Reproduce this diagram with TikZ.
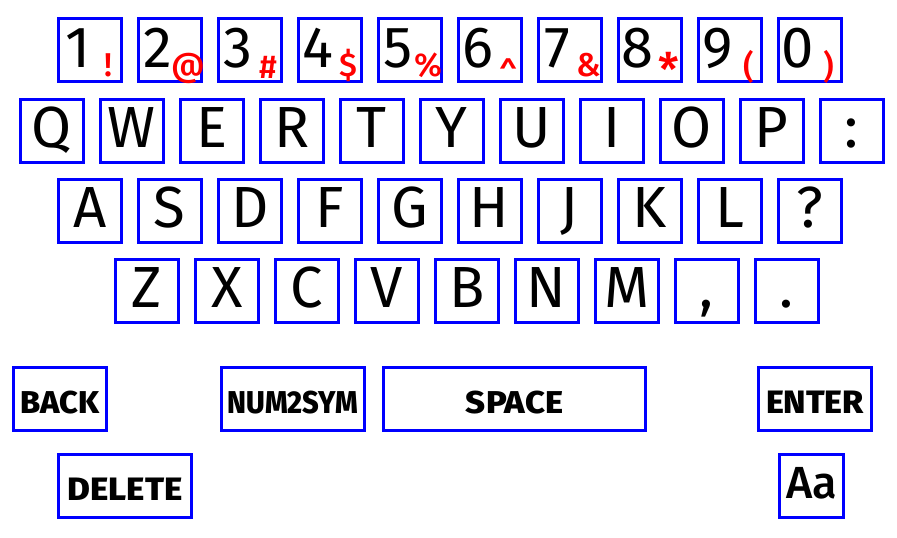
\documentclass[tikz,border=0pt]{standalone}
\usepackage{fontspec}
\setmainfont{Fira Sans}
\newfontfamily\regfont{Fira Sans}[UprightFont=* Medium]
\newfontfamily\boldfont{Fira Sans}[UprightFont=* ExtraBold]
\usetikzlibrary{calc}
\definecolor{kblue}{RGB}{0,0,255}
\definecolor{kred}{RGB}{255,0,0}
\tikzset{
  keybox/.style={draw=kblue, line width=3pt, minimum width=63pt, minimum height=63pt,
    inner sep=0pt, text height=33pt, text depth=0pt, font=\fontsize{58}{58}\selectfont},
  widebox/.style={draw=kblue, line width=3pt, minimum height=63pt, inner sep=0pt,
    text height=29pt, text depth=0pt, font=\boldfont},
  digit/.style={anchor=base, inner sep=0pt, font=\fontsize{58}{58}\selectfont},
  sym/.style={anchor=base, inner sep=0pt, text=kred, font=\regfont\fontsize{33}{33}\selectfont},
  aabox/.style={draw=kblue, line width=3pt, minimum width=63.6pt, minimum height=63pt,
    inner sep=0pt, text height=24.4pt, text depth=0pt, font=\regfont\fontsize{45}{45}\selectfont},
}
\begin{document}
\begin{tikzpicture}[x=1pt,y=-1pt]
\useasboundingbox (0,0) rectangle (897,538);
\fill[white] (0,0) rectangle (897,538);
% row 1: digits with shifted symbols (last value: extra downward shift)
\foreach \d/\s/\dy [count=\i from 0] in {1/!/0,2/@/0,3/\#/2,4/\$/0,5/\%/0,6/\textasciicircum/10,7/\&/0,8/\scalebox{1.4}{*}/10,9/(/2,0/)/2}{
  \node[keybox] (r1k\i) at (89.7+80*\i,50.3) {};
  \node[digit] (r1d\i) at ($(r1k\i.center)+(-12,16.7)$) {\d};
  \node[sym] (r1s\i) at ($(r1k\i.center)+(19,26+\dy)$) {\s};
}
% row 2
\foreach \c [count=\i from 0] in {Q,W,E,R,T,Y,U,I,O,P,:}{
  \node[keybox] (r2k\i) at (51.7+80*\i,131.2) {\c};
}
% row 3
\foreach \c [count=\i from 0] in {A,S,D,F,G,H,J,K,L,?}{
  \node[keybox] (r3k\i) at (89.7+80*\i,210.7) {\c};
}
% row 4
\foreach \c [count=\i from 0] in {Z,X,C,V,B,N,M,{,},.}{
  \node[keybox] (r4k\i) at (146.7+80*\i,290.9) {\c};
}
% command keys
\node[widebox, minimum width=93pt] (back) at (59.7,398.7) {\resizebox{79pt}{22.5pt}{BACK}};
\node[widebox, minimum width=143pt] (num2sym) at (293,398.7) {\resizebox{131pt}{22.5pt}{NUM2SYM}};
\node[widebox, minimum width=262.6pt] (space) at (514.5,398.7) {\resizebox{97pt}{22.5pt}{SPACE}};
\node[widebox, minimum width=113.6pt] (enter) at (815,398.7) {\resizebox{98pt}{22.5pt}{ENTER}};
\node[widebox, minimum width=133.6pt] (delete) at (125,485.8) {\resizebox{115pt}{22.5pt}{DELETE}};
\node[aabox] (aa) at (811.7,485.8) {Aa};
\end{tikzpicture}
\end{document}
